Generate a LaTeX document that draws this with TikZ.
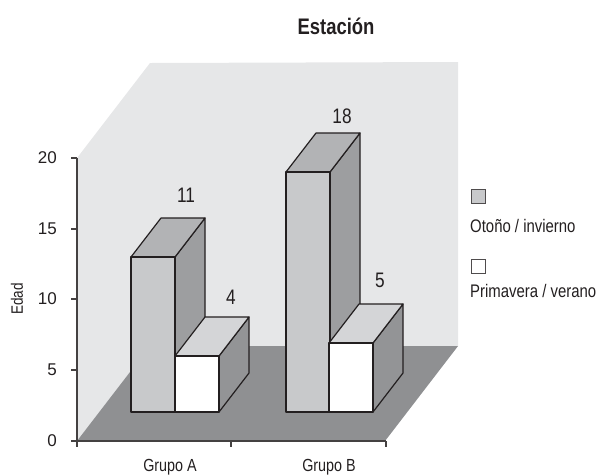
\documentclass[tikz,border=0pt]{standalone}
\usepackage{fontspec}
\setmainfont[FakeStretch=0.82]{Liberation Sans}
\newfontfamily\plainfont{Liberation Sans}
\definecolor{wallgray}{HTML}{E6E7E8}
\definecolor{floorgray}{HTML}{8F9092}
\definecolor{barfront}{HTML}{C8C9CB}
\definecolor{bartop}{HTML}{B2B3B5}
\definecolor{barside}{HTML}{9D9EA0}
\definecolor{whitetop}{HTML}{D4D5D7}
\definecolor{whiteside}{HTML}{939496}
\definecolor{txt}{HTML}{231F20}
\tikzset{
  barline/.style={draw=txt, line width=1.2pt, line join=round},
  axisline/.style={draw=txt!85, line width=1.1pt},
  ticklabel/.style={anchor=east, inner sep=0pt, text=txt, font=\plainfont\fontsize{17}{17}\selectfont},
  valuelabel/.style={anchor=base, inner sep=0pt, text=txt, font=\fontsize{21}{21}\selectfont},
  grouplabel/.style={inner sep=0pt, text=txt, font=\fontsize{17.5}{17.5}\selectfont},
  legendtext/.style={anchor=base west, inner sep=0pt, text=txt, font=\fontsize{18.2}{18.2}\selectfont},
  legendbox/.style={draw=txt!80, line width=0.9pt}
}
% x, top, front, top face, side face
\newcommand{\cuboid}[5]{%
  \draw[barline, fill=#5] (#1+44,412) -- ++(30,-39) -- (#1+74,#2-39) -- (#1+44,#2) -- cycle;
  \draw[barline, fill=#4] (#1,#2) -- ++(30,-39) -- (#1+74,#2-39) -- (#1+44,#2) -- cycle;
  \draw[barline, fill=#3] (#1,#2) rectangle (#1+44,412);}

\begin{document}
\begin{tikzpicture}[x=1pt, y=-1pt]
    \useasboundingbox (0,0) rectangle (596,475);
    \coordinate (D) at (73,-95);
    \coordinate (O) at (77,441);
    \coordinate (T) at (77,158);
    \coordinate (R) at (385,441);
    % ---------------------
    \fill[wallgray] (O) -- (T) -- ++(D) -- (458,62) -- (458,346) -- ++(-73,95) -- cycle;
    \fill[floorgray] (O) -- ++(D) -- (458,346) -- (R) -- cycle;
    % ---------------------
    \cuboid{131}{257}{barfront}{bartop}{barside}
    \cuboid{175}{356}{white}{whitetop}{whiteside}
    \cuboid{286}{172}{barfront}{bartop}{barside}
    \cuboid{329}{343}{white}{whitetop}{whiteside}
    % ---------------------
    \node[valuelabel] (vA1) at (186,202) {11};
    \node[valuelabel] (vA2) at (231,304) {4};
    \node[valuelabel] (vB1) at (342,123) {18};
    \node[valuelabel] (vB2) at (380,287) {5};
    % ---------------------
    \draw[axisline] (T) -- (77,447);
    \draw[axisline] (71,441) -- (386,441);
    \foreach \y/\v in {158/20, 229/15, 299/10, 370/5, 441/0} {
      \draw[axisline] (71,\y) -- (77,\y);
      \node[ticklabel] (t\v) at (57,\y) {\v};
    }
    \foreach \x in {231, 386}
      \draw[axisline] (\x,441) -- (\x,447);
    \node[grouplabel] (gA) at (170,467) {Grupo A};
    \node[grouplabel] (gB) at (329,467) {Grupo B};
    \node[inner sep=0pt, text=txt, rotate=90, font=\fontsize{16.5}{16.5}\selectfont] (edad) at (17,299) {Edad};
    % ---------------------
    \node[anchor=base, inner sep=0pt, text=txt, font=\bfseries\fontsize{22.5}{22.5}\selectfont] (title) at (336,34) {Estación};
    \draw[legendbox, fill=barfront] (471,189) rectangle (485,203);
    \node[legendtext] (lOI) at (470,232) {Otoño / invierno};
    \draw[legendbox, fill=white] (471,259) rectangle (485,273);
    \node[legendtext] (lPV) at (470,297) {Primavera / verano};
\end{tikzpicture}
\end{document}
